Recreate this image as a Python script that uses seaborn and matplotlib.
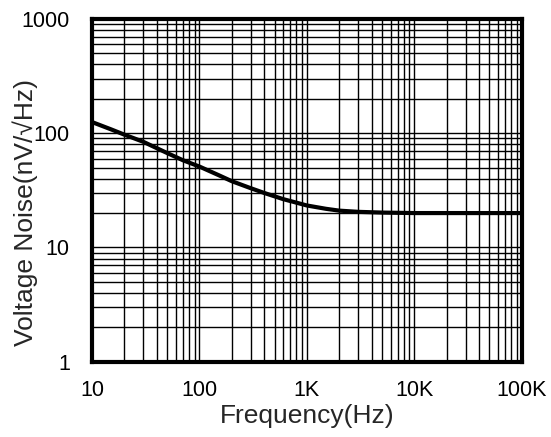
import matplotlib
matplotlib.use("Agg")
import matplotlib.pyplot as plt
import matplotlib.ticker as mticker
import seaborn as sns
import pandas as pd

freq_hz = [10, 15, 20, 30, 50, 70, 100, 150, 200, 300, 400, 600, 1000, 1500, 2000, 3000, 5000, 10000, 30000, 100000]
noise_nv = [125, 108, 97, 84, 67, 58, 51, 43, 38, 33, 30, 26.5, 23.3, 21.8, 21.0, 20.5, 20.2, 20.0, 20.0, 20.0]
x_ticks = [10, 100, 1000, 10000, 100000]
x_tick_labels = ["10", "100", "1K", "10K", "100K"]
y_ticks = [1, 10, 100, 1000]
y_tick_labels = ["1", "10", "100", "1000"]

sns.set_style("white")
plt.rcParams['font.family'] = ['Liberation Sans', 'DejaVu Sans']

df = pd.DataFrame({"f": freq_hz, "n": noise_nv})

fig = plt.figure(figsize=(5.51, 4.37), dpi=100)
ax = fig.add_axes([0.167, 0.172, 0.780, 0.785])

ax.set_xscale("log")
ax.set_yscale("log")
sns.lineplot(data=df, x="f", y="n", ax=ax, color="black", linewidth=3, zorder=5)

ax.set_xlim(10, 100000)
ax.set_ylim(1, 1000)
ax.set_xticks(x_ticks)
ax.set_xticklabels(x_tick_labels)
ax.set_yticks(y_ticks)
ax.set_yticklabels(y_tick_labels)
ax.xaxis.set_minor_locator(mticker.LogLocator(base=10, subs=range(2, 10), numticks=20))
ax.yaxis.set_minor_locator(mticker.LogLocator(base=10, subs=range(2, 10), numticks=20))
ax.xaxis.set_minor_formatter(mticker.NullFormatter())
ax.yaxis.set_minor_formatter(mticker.NullFormatter())

ax.grid(True, which="both", color="black", linewidth=1.0)
ax.tick_params(which="both", length=0, labelsize=15.5, colors="black")
ax.tick_params(axis="x", pad=13)
ax.tick_params(axis="y", pad=16)

for s in ax.spines.values():
    s.set_visible(True)
    s.set_color("black")
    s.set_linewidth(3)

ax.set_xlabel("Frequency(Hz)", fontsize=19)
ax.set_ylabel("Voltage Noise(nV/√Hz)", fontsize=19)
ax.xaxis.set_label_coords(0.5, -0.122)
ax.yaxis.set_label_coords(-0.126, 0.434)

fig.savefig("out.png", dpi=100)
